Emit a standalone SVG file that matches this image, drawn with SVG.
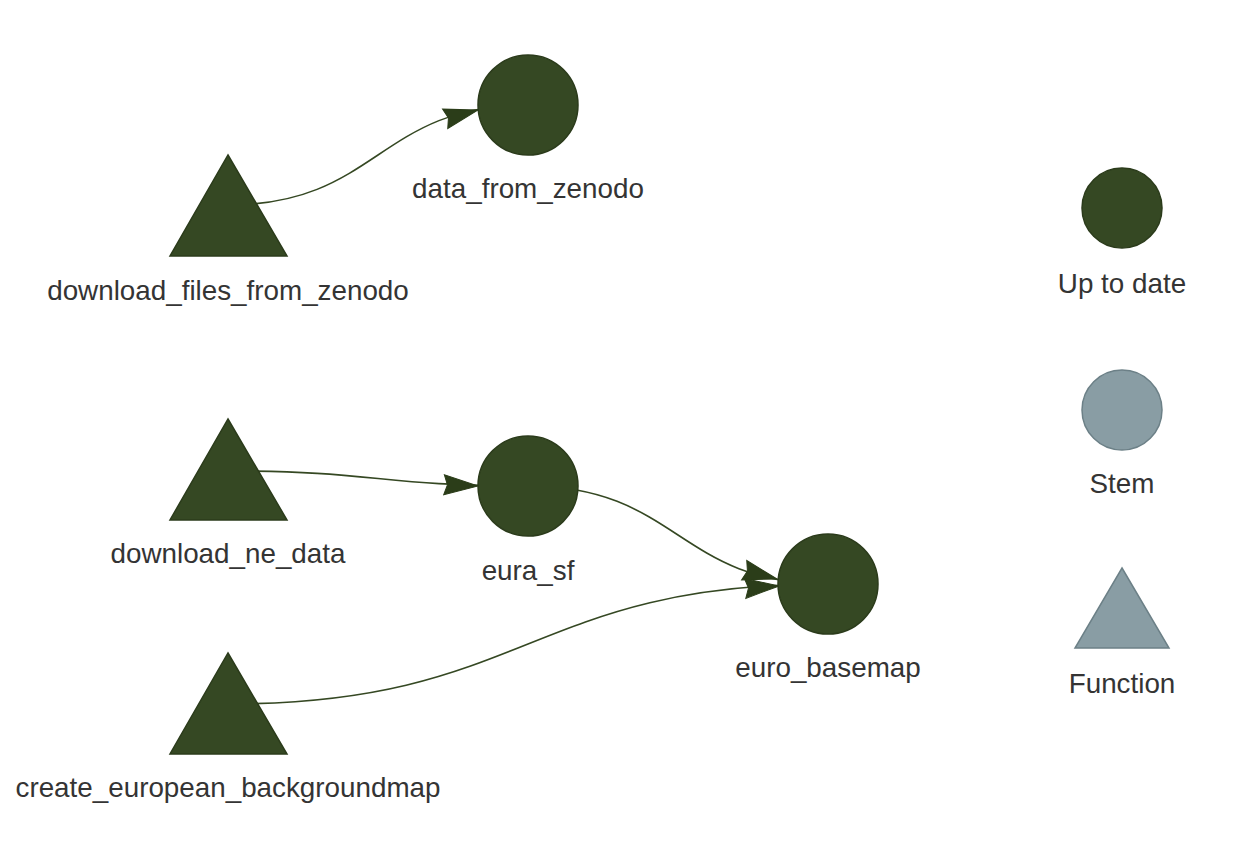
<svg xmlns="http://www.w3.org/2000/svg" width="1250" height="848" viewBox="0 0 1250 848">
<defs>
<style>
.lbl{font-family:"Liberation Sans",Arial,Helvetica,sans-serif;font-size:27.8px;fill:#343434;text-anchor:middle}
.done{fill:#354823;stroke:#2b3b1b;stroke-width:1.5}
.grey{fill:#899da4;stroke:#6c8087;stroke-width:1.5}
.edge{fill:none;stroke:#354823;stroke-width:1.6}
.ah{fill:#2b3d19;stroke:#2b3d19;stroke-width:1}
</style>
<polygon id="arrow" class="ah" points="0,0 -34,-10 -30.6,0 -34,10"/>
</defs>
<rect width="1250" height="848" fill="#ffffff"/>
<g id="connectors">
<path class="edge" d="M228,205 C378,205 378,105 528,105"/>
<use href="#arrow" transform="translate(478,110) rotate(-15)"/>
<path class="edge" d="M228,471 C378,471 378,486 528,486"/>
<use href="#arrow" transform="translate(478,486) rotate(2)"/>
<path class="edge" d="M528,486 C678,486 678,584 828,584"/>
<use href="#arrow" transform="translate(777,579) rotate(15)"/>
<path class="edge" d="M228,704 C528,704 528,584 828,584"/>
<use href="#arrow" transform="translate(779,586) rotate(-4)"/>
</g>
<g id="download_files_from_zenodo">
<polygon class="done" points="228,155 287,256 170,256"/>
<text class="lbl" x="228" y="300">download_files_from_zenodo</text>
</g>
<g id="data_from_zenodo">
<circle class="done" cx="528" cy="105" r="50"/>
<text class="lbl" x="528" y="198">data_from_zenodo</text>
</g>
<g id="download_ne_data">
<polygon class="done" points="228,419 287,520 170,520"/>
<text class="lbl" x="228" y="563">download_ne_data</text>
</g>
<g id="eura_sf">
<circle class="done" cx="528" cy="486" r="50"/>
<text class="lbl" x="528" y="580">eura_sf</text>
</g>
<g id="euro_basemap">
<circle class="done" cx="828" cy="584" r="50"/>
<text class="lbl" x="828" y="677">euro_basemap</text>
</g>
<g id="create_european_backgroundmap">
<polygon class="done" points="228,653 287,754 170,754"/>
<text class="lbl" x="228" y="797">create_european_backgroundmap</text>
</g>
<g id="legend_up_to_date">
<circle class="done" cx="1122" cy="208" r="40"/>
<text class="lbl" x="1122" y="293">Up to date</text>
</g>
<g id="legend_stem">
<circle class="grey" cx="1122" cy="410" r="40"/>
<text class="lbl" x="1122" y="493">Stem</text>
</g>
<g id="legend_function">
<polygon class="grey" points="1122,568 1169,648 1075,648"/>
<text class="lbl" x="1122" y="693">Function</text>
</g>
</svg>
